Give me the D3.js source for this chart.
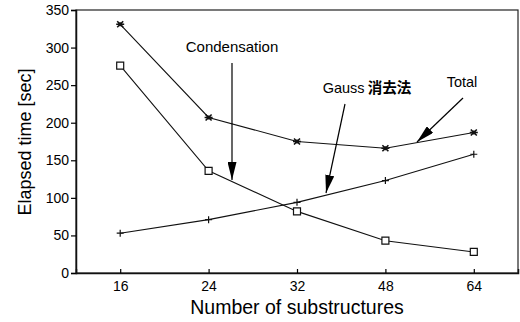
<!DOCTYPE html>
<html>
<head>
<meta charset="utf-8">
<script src="https://cdn.jsdelivr.net/npm/d3@7"></script>
<style>
  body { margin: 0; background: #fff; }
  svg text { font-family: "Liberation Sans", Arial, Helvetica, sans-serif; fill: #000; }
</style>
</head>
<body>
<div id="chart_div"></div>
<script>
// categories (x) and series values
const categories = ["16", "24", "32", "48", "64"];
const totalValues = [331, 207, 175, 166, 187];
const condensationValues = [276, 136, 82, 43, 28];
const gaussValues = [53, 71, 94, 123, 158];
const yTicks = [0, 50, 100, 150, 200, 250, 300, 350];

const W = 520, H = 322;
const mLeft = 76, mRight = 518, mTop = 10, mBottom = 273;

const svg = d3.select("#chart_div")
  .append("svg")
  .attr("width", W)
  .attr("height", H);

// scales
const x = d3.scalePoint()
  .domain(categories)
  .range([mLeft, mRight])
  .padding(0.5);

const y = d3.scaleLinear()
  .domain([0, 350])
  .range([mBottom, mTop]);

// frame
svg.append("rect")
  .attr("x", mLeft).attr("y", mTop)
  .attr("width", mRight - mLeft).attr("height", mBottom - mTop)
  .attr("fill", "none")
  .attr("stroke", "#222")
  .attr("stroke-width", 1.2);

// Y axis
const yAxis = svg.append("g")
  .attr("transform", "translate(" + mLeft + ",0)")
  .call(d3.axisLeft(y).tickValues(yTicks).tickSize(5).tickPadding(2));
yAxis.select(".domain").attr("stroke", "#111").attr("stroke-width", 1.5);
yAxis.selectAll(".tick line").attr("stroke-width", 1.2);
yAxis.selectAll("text").style("font-size", "14px").attr("font-family", "Liberation Sans, Arial");

// X axis (ticks pointing inward)
const xAxis = svg.append("g")
  .attr("transform", "translate(0," + mBottom + ")")
  .call(d3.axisBottom(x).tickSize(-4).tickPadding(8));
xAxis.select(".domain").attr("stroke", "#111").attr("stroke-width", 1.5);
xAxis.selectAll(".tick line").attr("stroke-width", 1.2);
xAxis.selectAll("text").style("font-size", "14px").attr("font-family", "Liberation Sans, Arial");

// axis titles
svg.append("text")
  .attr("x", 297).attr("y", 314)
  .attr("text-anchor", "middle")
  .style("font-size", "19.5px")
  .text("Number of substructures");

svg.append("text")
  .attr("transform", "translate(31,142) rotate(-90)")
  .attr("text-anchor", "middle")
  .style("font-size", "18px")
  .text("Elapsed time [sec]");

// lines
const line = d3.line()
  .x((d, i) => x(categories[i]))
  .y(d => y(d));

// marker shapes drawn with strokes
const markerPaths = {
  asterisk: "M-4,0H4M-3,-3L3,3M-3,3L3,-3M0,-2V2",
  square: "M-3.5,-3.5H3.5V3.5H-3.5Z",
  plus: "M-3.5,0H3.5M0,-3.5V3.5"
};

const series = [
  { name: "Total", values: totalValues, marker: "asterisk" },
  { name: "Condensation", values: condensationValues, marker: "square" },
  { name: "Gauss", values: gaussValues, marker: "plus" }
];

series.forEach(s => {
  svg.append("path")
    .datum(s.values)
    .attr("d", line)
    .attr("fill", "none")
    .attr("stroke", "#111")
    .attr("stroke-width", 1.1);

  svg.append("g")
    .selectAll("path")
    .data(s.values).enter()
    .append("path")
    .attr("transform", (d, i) => "translate(" + x(categories[i]) + "," + y(d) + ")")
    .attr("d", markerPaths[s.marker])
    .attr("fill", s.marker === "square" ? "#fff" : "none")
    .attr("stroke", "#111")
    .attr("stroke-width", s.marker === "asterisk" ? 1.6 : 1.2);
});

// annotation arrows
svg.append("defs").append("marker")
  .attr("id", "head")
  .attr("viewBox", "0 0 20 10")
  .attr("refX", 20).attr("refY", 5)
  .attr("markerWidth", 18).attr("markerHeight", 9)
  .attr("markerUnits", "userSpaceOnUse")
  .attr("orient", "auto")
  .append("path")
  .attr("d", "M0,0 L20,5 L0,10 Z")
  .attr("fill", "#000");

const notes = [
  { text: "Condensation", size: 15, tx: 232, ty: 52, from: [232, 63], to: [232, 180] },
  { text: "Gauss", cjk: "消去法", size: 14.5, tx: 367, ty: 93, from: [345, 104], to: [326, 193] },
  { text: "Total", size: 14.5, tx: 462, ty: 87, from: [463, 98], to: [417, 142] }
];

notes.forEach(n => {
  const t = svg.append("text")
    .attr("x", n.tx).attr("y", n.ty)
    .attr("text-anchor", "middle")
    .style("font-size", n.size + "px")
    .text(n.text);
  if (n.cjk) {
    t.append("tspan")
      .style("font-family", "'Noto Sans CJK JP'")
      .style("font-weight", "bold")
      .text(" " + n.cjk);
  }

  svg.append("line")
    .attr("x1", n.from[0]).attr("y1", n.from[1])
    .attr("x2", n.to[0]).attr("y2", n.to[1])
    .attr("stroke", "#000")
    .attr("stroke-width", 1.2)
    .attr("marker-end", "url(#head)");
});
</script>
</body>
</html>
